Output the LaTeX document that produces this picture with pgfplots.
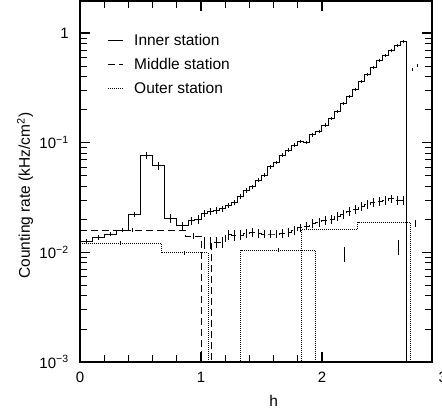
\documentclass[border=0pt]{standalone}
\usepackage{fontspec}
\setmainfont{Liberation Sans}
\usepackage{pgfplots}
\pgfplotsset{compat=1.18}

\begin{document}
\fontsize{15.5bp}{18bp}\selectfont
\begin{tikzpicture}
\begin{axis}[
  width=352bp, height=361bp, scale only axis,
  ymode=log, xmin=0, xmax=2.91, ymin=1e-3, ymax=1.96,
  xtick={0,1,2}, xticklabels={0,1,2}, minor x tick num=4,
  ytick={0.001,0.01,0.1,1},
  yticklabels={10\textsuperscript{−3},10\textsuperscript{−2},10\textsuperscript{−1},1},
  minor ytick={0.002,0.003,0.004,0.005,0.006,0.007,0.008,0.009,
               0.02,0.03,0.04,0.05,0.06,0.07,0.08,0.09,
               0.2,0.3,0.4,0.5,0.6,0.7,0.8,0.9},
  tick align=inside,
  major tick length=10bp, minor tick length=7bp,
  every major tick/.style={line width=1.4bp, black},
  every minor tick/.style={line width=1bp, black},
  axis line style={line width=1.2bp},
  tick label style={font=\fontsize{15bp}{18bp}\selectfont},
  xticklabel style={yshift=-5bp},
  yticklabel style={xshift=-6bp},
  every axis x label/.style={at={(axis description cs:0.55,-0.109)}, anchor=center},
  every axis y label/.style={at={(axis description cs:-0.156,0.461)}, rotate=90, anchor=center},
  xlabel={h}, ylabel={Counting rate (kHz/cm\textsuperscript{2})},
  legend style={at={(axis description cs:0.077,0.915)}, anchor=north west,
    draw=none, fill=none, inner sep=0pt, row sep=6.5bp,
    font=\fontsize{15.5bp}{18bp}\selectfont,
    /tikz/every odd column/.append style={column sep=9bp}},
  legend cell align=left,
  legend image code/.code={\draw[#1] (0bp,0bp) -- (15bp,0bp);},
]
% inner station
\addplot[black, line width=0.9bp, const plot] coordinates {
(0,0.0127) (0.1,0.0136) (0.2,0.0147) (0.3,0.0160) (0.4,0.0223) (0.5,0.0766)
(0.6,0.0615) (0.7,0.0205) (0.8,0.0175) (0.9,0.0194) (0.95,0.0200) (1.0,0.0227)
(1.05,0.0236) (1.1,0.0243) (1.15,0.0250) (1.2,0.0268) (1.25,0.0285) (1.3,0.0321)
(1.35,0.0365) (1.4,0.0395) (1.45,0.0456) (1.5,0.0505) (1.55,0.0603) (1.6,0.0660)
(1.65,0.0771) (1.7,0.0857) (1.75,0.0951) (1.8,0.1020) (1.85,0.1000) (1.9,0.1180)
(1.95,0.1260) (2.0,0.145) (2.05,0.167) (2.1,0.191) (2.15,0.229) (2.2,0.263)
(2.25,0.306) (2.3,0.359) (2.35,0.422) (2.4,0.482) (2.45,0.566) (2.5,0.629)
(2.55,0.699) (2.6,0.776) (2.65,0.844) (2.7,0.00001)};
\addlegendentry{Inner station}
% middle station
\addplot[black, line width=0.9bp, const plot, dash pattern=on 7bp off 4bp] coordinates {
(0,0.0160) (0.87,0.0141) (1.0,0.00001) (1.09,0.0124) (1.15,0.0124) (1.2,0.0145)
(1.25,0.0144) (1.3,0.0144) (1.35,0.0150) (1.4,0.0153) (1.45,0.0150) (1.5,0.0147)
(1.55,0.0147) (1.6,0.0147) (1.65,0.0150) (1.7,0.0153) (1.75,0.0158) (1.8,0.0167)
(1.85,0.0174) (1.9,0.0185) (1.95,0.0189) (2.0,0.0195) (2.05,0.0201) (2.1,0.0212)
(2.15,0.0223) (2.2,0.0238) (2.25,0.0248) (2.3,0.0264) (2.35,0.0275) (2.4,0.0287)
(2.45,0.0293) (2.5,0.0300) (2.55,0.0309) (2.6,0.0300) (2.65,0.0300) (2.7,0.00001)};
\addlegendentry{Middle station}
% outer station
\addplot[black, line width=0.8bp, const plot, dash pattern=on 1bp off 1bp] coordinates {
(0,0.0121) (0.67,0.0099) (1.06,0.00001)};
\addlegendentry{Outer station}
\addplot[black, line width=0.8bp, const plot, dash pattern=on 1bp off 1bp, forget plot] coordinates {
(1.30,0.00001) (1.33,0.0105) (1.945,0.00001)};
\addplot[black, line width=0.8bp, const plot, dash pattern=on 1bp off 1bp, forget plot] coordinates {
(1.80,0.00001) (1.83,0.0162) (2.295,0.0188) (2.73,0.00001)};
% error bars, inner
\addplot[draw=none, mark=none, forget plot,
  error bars/.cd, y dir=both, y explicit relative, error mark=none,
  error bar style={draw=black, solid, line width=0.8bp}] coordinates {
(0.05,0.0127) +- (0,0.05) (0.15,0.0136) +- (0,0.05) (0.25,0.0147) +- (0,0.05)
(0.35,0.0160) +- (0,0.05) (0.45,0.0223) +- (0,0.05) (0.55,0.0766) +- (0,0.08)
(0.65,0.0615) +- (0,0.08) (0.75,0.0205) +- (0,0.09) (0.85,0.0175) +- (0,0.09)
(0.925,0.0194) +- (0,0.09) (0.975,0.0200) +- (0,0.09) (1.025,0.0227) +- (0,0.08)
(1.075,0.0236) +- (0,0.08) (1.125,0.0243) +- (0,0.07) (1.175,0.0250) +- (0,0.06)
(1.225,0.0268) +- (0,0.05) (1.275,0.0285) +- (0,0.05) (1.325,0.0321) +- (0,0.05)
(1.375,0.0365) +- (0,0.05) (1.425,0.0395) +- (0,0.05) (1.475,0.0456) +- (0,0.04)
(1.525,0.0505) +- (0,0.04) (1.575,0.0603) +- (0,0.04) (1.625,0.0660) +- (0,0.04)
(1.675,0.0771) +- (0,0.04) (1.725,0.0857) +- (0,0.04) (1.775,0.0951) +- (0,0.04)
(1.825,0.1020) +- (0,0.035) (1.875,0.1000) +- (0,0.035) (1.925,0.1180) +- (0,0.035)
(1.975,0.1260) +- (0,0.035) (2.025,0.145) +- (0,0.035) (2.075,0.167) +- (0,0.03)
(2.125,0.191) +- (0,0.03) (2.175,0.229) +- (0,0.03) (2.225,0.263) +- (0,0.03)
(2.275,0.306) +- (0,0.03) (2.325,0.359) +- (0,0.03) (2.375,0.422) +- (0,0.03)
(2.425,0.482) +- (0,0.03) (2.475,0.566) +- (0,0.03) (2.525,0.629) +- (0,0.03)
(2.575,0.699) +- (0,0.03) (2.625,0.776) +- (0,0.03) (2.675,0.844) +- (0,0.03)
(2.745,0.467) +- (0,0.03) (2.79,0.506) +- (0,0.03)};
% error bars, middle
\addplot[draw=none, mark=none, forget plot,
  error bars/.cd, y dir=both, y explicit relative, error mark=none,
  error bar style={draw=black, solid, line width=0.8bp}] coordinates {
(0.435,0.0160) +- (0,0.05) (0.935,0.0141) +- (0,0.06)
(1.025,0.0123) +- (0,0.12) (1.075,0.0123) +- (0,0.12)
(1.125,0.0124) +- (0,0.12) (1.175,0.0124) +- (0,0.12) (1.225,0.0145) +- (0,0.11)
(1.275,0.0144) +- (0,0.11) (1.325,0.0144) +- (0,0.1) (1.375,0.0150) +- (0,0.1)
(1.425,0.0153) +- (0,0.09) (1.475,0.0150) +- (0,0.09) (1.525,0.0147) +- (0,0.09)
(1.575,0.0147) +- (0,0.09) (1.625,0.0147) +- (0,0.09) (1.675,0.0150) +- (0,0.09)
(1.725,0.0153) +- (0,0.09) (1.775,0.0158) +- (0,0.09) (1.825,0.0167) +- (0,0.09)
(1.875,0.0174) +- (0,0.09) (1.925,0.0185) +- (0,0.09) (1.975,0.0189) +- (0,0.09)
(2.025,0.0195) +- (0,0.09) (2.075,0.0201) +- (0,0.09) (2.125,0.0212) +- (0,0.09)
(2.175,0.0223) +- (0,0.09) (2.225,0.0238) +- (0,0.09) (2.275,0.0248) +- (0,0.09)
(2.325,0.0264) +- (0,0.09) (2.375,0.0275) +- (0,0.09) (2.425,0.0287) +- (0,0.09)
(2.475,0.0293) +- (0,0.09) (2.525,0.0300) +- (0,0.09) (2.575,0.0309) +- (0,0.09)
(2.625,0.0300) +- (0,0.09) (2.675,0.0300) +- (0,0.09)};
% error bars, outer
\addplot[draw=none, mark=none, forget plot,
  error bars/.cd, y dir=both, y explicit relative, error mark=none,
  error bar style={draw=black, solid, line width=0.8bp}] coordinates {
(0.335,0.0121) +- (0,0.045) (0.865,0.0099) +- (0,0.045) (1.64,0.0105) +- (0,0.045)
(2.182,0.0097) +- (0,0.15) (2.629,0.01125) +- (0,0.16) (2.775,0.0184) +- (0,0.07)};
\coordinate (three) at (axis cs:3,0.001);
\coordinate (bl) at (axis description cs:0,0);
\coordinate (tr) at (axis description cs:1,1);
\end{axis}
\node[anchor=north, yshift=-5bp, font=\fontsize{15bp}{18bp}\selectfont] at (three) {3};
\pgfresetboundingbox
\path[use as bounding box] ([shift={(-80bp,-53bp)}]bl) rectangle ([shift={(10bp,1bp)}]tr);
\end{tikzpicture}
\end{document}
